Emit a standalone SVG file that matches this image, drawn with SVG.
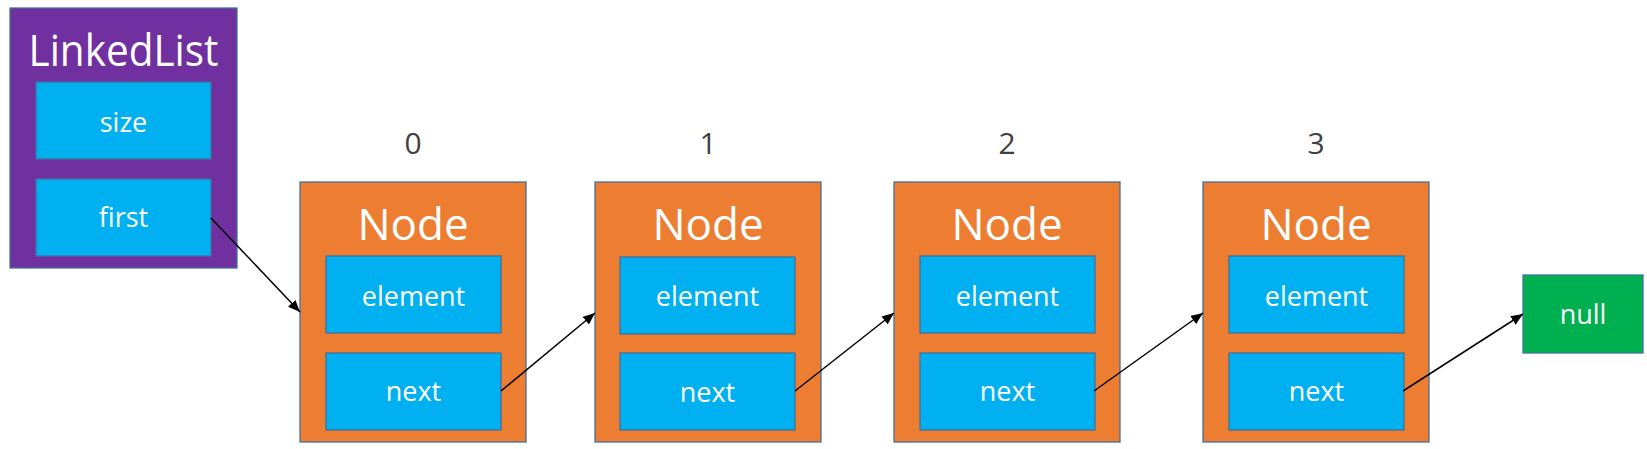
<svg xmlns="http://www.w3.org/2000/svg" width="1647" height="449" viewBox="0 0 1647 449">
<defs>
<marker id="arr" markerUnits="userSpaceOnUse" markerWidth="13" markerHeight="10" refX="12" refY="5" orient="auto">
<path d="M0,0 L12,5 L0,10 z" fill="#000"/>
</marker>
<style>
.outer{stroke:#41719C;stroke-width:1.3}
.list{fill:#7030A0}
.node{fill:#ED7D31}
.field{fill:#00B0F0;stroke:#41719C;stroke-width:1.3}
.nul{fill:#00B050;stroke:#41719C;stroke-width:1.3}
text{font-family:"Open Sans","Noto Sans","DejaVu Sans",sans-serif;text-anchor:middle;fill:#fff}
.title{font-size:44px}
.lbl{font-size:27px}
.idx{font-size:30px;fill:#404040}
.conn line{stroke:#000;stroke-width:1.5;marker-end:url(#arr)}
</style>
</defs>
<rect width="1647" height="449" fill="#fff"/>

<g id="linkedlist">
<rect class="outer list" x="10" y="8" width="227" height="260"/>
<text class="title" x="123.5" y="66" textLength="190" lengthAdjust="spacingAndGlyphs">LinkedList</text>
<rect class="field" x="36" y="82" width="175" height="77"/>
<text class="lbl" x="123.5" y="132">size</text>
<rect class="field" x="36" y="179" width="175" height="77"/>
<text class="lbl" x="123.5" y="227">first</text>
</g>

<g id="node0">
<text class="idx" x="413" y="154">0</text>
<rect class="outer node" x="300" y="182" width="226" height="260"/>
<text class="title" x="413" y="240">Node</text>
<rect class="field" x="326" y="256" width="175" height="77"/>
<text class="lbl" x="413.5" y="306">element</text>
<rect class="field" x="326" y="353" width="175" height="77"/>
<text class="lbl" x="413.5" y="401">next</text>
</g>

<g id="node1">
<text class="idx" x="708" y="154">1</text>
<rect class="outer node" x="595" y="182" width="226" height="260"/>
<text class="title" x="708" y="240">Node</text>
<rect class="field" x="620" y="257" width="175" height="77"/>
<text class="lbl" x="707.5" y="306">element</text>
<rect class="field" x="620" y="353" width="175" height="77"/>
<text class="lbl" x="707.5" y="402">next</text>
</g>

<g id="node2">
<text class="idx" x="1007" y="154">2</text>
<rect class="outer node" x="894" y="182" width="226" height="260"/>
<text class="title" x="1007" y="240">Node</text>
<rect class="field" x="920" y="256" width="175" height="77"/>
<text class="lbl" x="1007.5" y="306">element</text>
<rect class="field" x="920" y="353" width="175" height="77"/>
<text class="lbl" x="1007.5" y="401">next</text>
</g>

<g id="node3">
<text class="idx" x="1316" y="154">3</text>
<rect class="outer node" x="1203" y="182" width="226" height="260"/>
<text class="title" x="1316" y="240">Node</text>
<rect class="field" x="1229" y="256" width="175" height="77"/>
<text class="lbl" x="1316.5" y="306">element</text>
<rect class="field" x="1229" y="353" width="175" height="77"/>
<text class="lbl" x="1316.5" y="401">next</text>
</g>

<g id="null">
<rect class="nul" x="1523" y="275" width="120" height="78"/>
<text class="lbl" x="1583" y="324">null</text>
</g>

<g id="connectors" class="conn">
<line x1="211" y1="218" x2="300" y2="312"/>
<line x1="501" y1="391" x2="595" y2="313"/>
<line x1="795" y1="391" x2="894" y2="313"/>
<line x1="1094" y1="391" x2="1203" y2="313"/>
<line x1="1403" y1="391" x2="1523" y2="314"/>
</g>
</svg>
